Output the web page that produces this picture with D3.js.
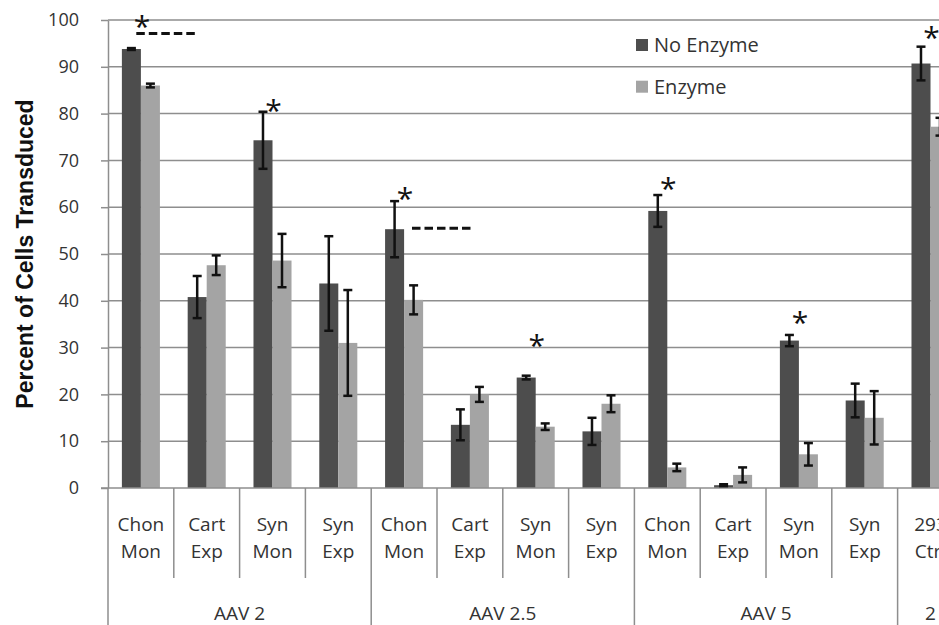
<!DOCTYPE html>
<html>
<head>
<meta charset="utf-8">
<script src="https://cdn.jsdelivr.net/npm/d3@7"></script>
<style>
  body { margin: 0; background: #fff; }
  svg { display: block; }
</style>
</head>
<body>
<div id="chart"></div>
<script>
// data
var groups = ["AAV 2", "AAV 2.5", "AAV 5", "2"];
var groupSizes = [4, 4, 4, 1];
var catTop = ["Chon", "Cart", "Syn", "Syn", "Chon", "Cart", "Syn", "Syn", "Chon", "Cart", "Syn", "Syn", "293"];
var catBottom = ["Mon", "Exp", "Mon", "Exp", "Mon", "Exp", "Mon", "Exp", "Mon", "Exp", "Mon", "Exp", "Ctrl"];
var series = ["No Enzyme", "Enzyme"];
var noEnzyme = [93.8, 40.8, 74.3, 43.7, 55.3, 13.5, 23.6, 12.1, 59.2, 0.6, 31.5, 18.7, 90.7];
var noEnzymeErr = [0.2, 4.5, 6.1, 10.1, 6.0, 3.3, 0.4, 2.9, 3.4, 0.2, 1.2, 3.6, 3.6];
var enzyme = [86.0, 47.6, 48.6, 31.0, 40.2, 20.0, 13.1, 18.0, 4.4, 2.8, 7.2, 15.0, 77.2];
var enzymeErr = [0.4, 2.1, 5.7, 11.3, 3.1, 1.6, 0.7, 1.8, 0.8, 1.6, 2.4, 5.7, 1.9];
var yTicks = [0, 10, 20, 30, 40, 50, 60, 70, 80, 90, 100];
// significance marks (category index, height of the star)
var starCat = [0, 2, 4, 6, 8, 10, 12];
var starValue = [100.0, 82.0, 63.3, 31.8, 65.4, 36.8, 97.6];
// dashed brackets (start / end along the category axis, height)
var dashStart = [0.43, 4.62];
var dashEnd = [1.37, 5.56];
var dashValue = [97.1, 55.5];

var W = 939, H = 625;
var margin = {top: 20, left: 108, bottom: 137};
var step = 65.8;
var plotH = H - margin.top - margin.bottom;
var plotRight = margin.left + catTop.length * step;

var colors = {"No Enzyme": "#4d4d4d", "Enzyme": "#a4a4a4"};
var gridColor = "#8e8e8e";
var textColor = "#333";

var svg = d3.select("#chart")
  .append("svg")
    .attr("width", W)
    .attr("height", H);

var idx = d3.range(catTop.length);

var x = d3.scaleBand()
  .domain(idx)
  .range([margin.left, plotRight])
  .padding(0);

var xPos = d3.scaleLinear()
  .domain([0, catTop.length])
  .range([margin.left, plotRight]);

var xSub = d3.scaleBand()
  .domain(series)
  .range([0, x.bandwidth()])
  .paddingInner(0)
  .paddingOuter(0.73);

var y = d3.scaleLinear()
  .domain([0, 100])
  .range([margin.top + plotH, margin.top]);

// gridlines
svg.append("g")
  .selectAll("line")
  .data(yTicks.filter(function(d) { return d > 0; }))
  .enter()
  .append("line")
    .attr("x1", margin.left)
    .attr("x2", plotRight)
    .attr("y1", function(d) { return y(d); })
    .attr("y2", function(d) { return y(d); })
    .attr("stroke", gridColor)
    .attr("stroke-width", 1.5);

// y axis
var yAxis = svg.append("g")
  .attr("transform", "translate(" + margin.left + ",0)")
  .call(d3.axisLeft(y).tickValues(yTicks).tickSize(7).tickPadding(22).tickSizeOuter(0));
yAxis.select(".domain").attr("stroke", gridColor).attr("stroke-width", 1.5);
yAxis.selectAll(".tick line").attr("stroke", gridColor).attr("stroke-width", 1.5);
yAxis.selectAll(".tick text")
  .attr("fill", textColor)
  .style("font-family", "'Open Sans', sans-serif")
  .style("font-size", "18px");

svg.append("text")
  .text("Percent of Cells Transduced")
  .attr("transform", "translate(33," + (margin.top + plotH / 2) + ") rotate(-90)")
  .attr("text-anchor", "middle")
  .attr("fill", "#111")
  .style("font-family", "'Liberation Sans', Arial, sans-serif")
  .style("font-weight", "bold")
  .style("font-size", "23px");

// bars
var rows = idx.map(function(i) {
  return [
    {i: i, s: "No Enzyme", v: noEnzyme[i], e: noEnzymeErr[i]},
    {i: i, s: "Enzyme", v: enzyme[i], e: enzymeErr[i]}
  ];
});
var flat = [].concat.apply([], rows);

svg.append("g")
  .selectAll("rect")
  .data(flat)
  .enter()
  .append("rect")
    .attr("x", function(d) { return x(d.i) + xSub(d.s); })
    .attr("y", function(d) { return y(d.v); })
    .attr("width", xSub.bandwidth())
    .attr("height", function(d) { return y(0) - y(d.v); })
    .attr("fill", function(d) { return colors[d.s]; });

// x axis baseline
svg.append("line")
  .attr("x1", margin.left - 7)
  .attr("x2", plotRight)
  .attr("y1", y(0))
  .attr("y2", y(0))
  .attr("stroke", gridColor)
  .attr("stroke-width", 1.5);

// error bars
var err = svg.append("g")
  .selectAll("g")
  .data(flat)
  .enter()
  .append("g")
    .attr("stroke", "#111")
    .attr("stroke-width", 2.5);
var cx = function(d) { return x(d.i) + xSub(d.s) + xSub.bandwidth() / 2; };
err.append("line")
  .attr("x1", cx).attr("x2", cx)
  .attr("y1", function(d) { return y(d.v + d.e); })
  .attr("y2", function(d) { return y(d.v - d.e); });
err.append("line")
  .attr("x1", function(d) { return cx(d) - 4.5; })
  .attr("x2", function(d) { return cx(d) + 4.5; })
  .attr("y1", function(d) { return y(d.v + d.e); })
  .attr("y2", function(d) { return y(d.v + d.e); });
err.append("line")
  .attr("x1", function(d) { return cx(d) - 4.5; })
  .attr("x2", function(d) { return cx(d) + 4.5; })
  .attr("y1", function(d) { return y(d.v - d.e); })
  .attr("y2", function(d) { return y(d.v - d.e); });

// stars
var starSize = 30;
svg.append("g")
  .selectAll("text")
  .data(starCat)
  .enter()
  .append("text")
    .text("*")
    .attr("x", function(d) { return x(d) + x.bandwidth() / 2 + 1; })
    .attr("y", function(d, k) { return y(starValue[k]) + starSize * 0.56; })
    .attr("text-anchor", "middle")
    .attr("fill", "#111")
    .style("font-family", "'Open Sans', sans-serif")
    .style("font-size", starSize + "px");

// dashed lines
svg.append("g")
  .selectAll("line")
  .data(dashValue)
  .enter()
  .append("line")
    .attr("x1", function(d, k) { return xPos(dashStart[k]); })
    .attr("x2", function(d, k) { return xPos(dashEnd[k]); })
    .attr("y1", function(d) { return y(d); })
    .attr("y2", function(d) { return y(d); })
    .attr("stroke", "#111")
    .attr("stroke-width", 3)
    .attr("stroke-dasharray", "8.5,4");

// category separators and labels
var groupStarts = [0];
groupSizes.forEach(function(n, k) { groupStarts.push(groupStarts[k] + n); });

svg.append("g")
  .selectAll("line")
  .data(d3.range(catTop.length + 1))
  .enter()
  .append("line")
    .attr("x1", function(d) { return xPos(d); })
    .attr("x2", function(d) { return xPos(d); })
    .attr("y1", y(0))
    .attr("y2", function(d) { return groupStarts.indexOf(d) >= 0 ? H : y(0) + 90; })
    .attr("stroke", gridColor)
    .attr("stroke-width", 1.5);

var catLabels = svg.append("g")
  .selectAll("text")
  .data(idx)
  .enter()
  .append("text")
    .attr("text-anchor", "middle")
    .attr("fill", textColor)
    .style("font-family", "'Open Sans', sans-serif")
    .style("font-size", "19px");
catLabels.append("tspan")
  .attr("x", function(d) { return x(d) + x.bandwidth() / 2; })
  .attr("y", y(0) + 43)
  .text(function(d) { return catTop[d]; });
catLabels.append("tspan")
  .attr("x", function(d) { return x(d) + x.bandwidth() / 2; })
  .attr("y", y(0) + 69.5)
  .text(function(d) { return catBottom[d]; });

svg.append("g")
  .selectAll("text")
  .data(groups)
  .enter()
  .append("text")
    .text(function(d) { return d; })
    .attr("x", function(d, k) { return xPos(groupStarts[k] + groupSizes[k] / 2); })
    .attr("y", y(0) + 132)
    .attr("text-anchor", "middle")
    .attr("fill", textColor)
    .style("font-family", "'Open Sans', sans-serif")
    .style("font-size", "19px");

// legend
var legend = svg.append("g")
  .attr("transform", "translate(636,0)");
legend.selectAll("rect")
  .data(series)
  .enter()
  .append("rect")
    .attr("x", 0)
    .attr("y", function(d, k) { return 39 + k * 41.7; })
    .attr("width", 12)
    .attr("height", 12)
    .attr("fill", function(d) { return colors[d]; });
legend.selectAll("text")
  .data(series)
  .enter()
  .append("text")
    .text(function(d) { return d; })
    .attr("x", 18)
    .attr("y", function(d, k) { return 52 + k * 41.7; })
    .attr("fill", textColor)
    .style("font-family", "'Open Sans', sans-serif")
    .style("font-size", "20px");
</script>
</body>
</html>
